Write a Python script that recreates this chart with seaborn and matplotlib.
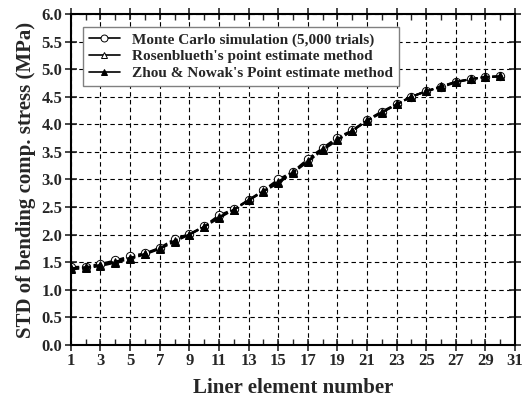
import numpy as np
import pandas as pd
import matplotlib
matplotlib.use("Agg")
import matplotlib.pyplot as plt
import seaborn as sns
from matplotlib.ticker import MultipleLocator, FixedLocator

elements = list(range(1, 31))
monte_carlo = [1.41, 1.42, 1.47, 1.53, 1.61, 1.66, 1.76, 1.92, 2.01, 2.15, 2.35, 2.46, 2.63, 2.80, 3.00, 3.14,
               3.37, 3.57, 3.76, 3.89, 4.08, 4.23, 4.37, 4.50, 4.60, 4.67, 4.76, 4.82, 4.85, 4.87]
rosenblueth = [1.39, 1.41, 1.45, 1.51, 1.58, 1.65, 1.75, 1.89, 2.00, 2.14, 2.32, 2.45, 2.62, 2.79, 2.96, 3.13,
               3.34, 3.55, 3.73, 3.88, 4.07, 4.22, 4.36, 4.50, 4.60, 4.68, 4.77, 4.82, 4.86, 4.87]
zhou_nowak = [1.37, 1.39, 1.43, 1.49, 1.56, 1.64, 1.74, 1.87, 2.00, 2.14, 2.30, 2.45, 2.62, 2.78, 2.93, 3.12,
              3.32, 3.53, 3.71, 3.88, 4.06, 4.21, 4.36, 4.50, 4.60, 4.69, 4.77, 4.82, 4.86, 4.87]
labels = ["Monte Carlo simulation (5,000 trials)",
          "Rosenblueth's point estimate method",
          "Zhou & Nowak's Point estimate method"]
x_ticks = list(range(1, 32, 2))

sns.set_style("ticks")
plt.rcParams['font.family'] = ['Liberation Serif', 'DejaVu Serif']
plt.rcParams['font.weight'] = 'bold'

fig = plt.figure(figsize=(5.25, 4.01), dpi=100)
ax = fig.add_axes([0.135, 0.14, 0.846, 0.825])

styles = [
    dict(marker='o', mfc='white', mec='black'),
    dict(marker='^', mfc='white', mec='black'),
    dict(marker='^', mfc='black', mec='black'),
]
for series, lab, st in zip([monte_carlo, rosenblueth, zhou_nowak], labels, styles):
    df = pd.DataFrame({"x": elements, "y": series})
    sns.lineplot(data=df, x="x", y="y", ax=ax, color='black', lw=1.5, dashes=False,
                 linestyle=(0, (4, 1.5)), marker=st['marker'], markersize=6,
                 markerfacecolor=st['mfc'], markeredgecolor=st['mec'], markeredgewidth=0.7,
                 label=lab)

ax.set_xlim(1, 31)
ax.set_ylim(0, 6.0)
ax.xaxis.set_major_locator(FixedLocator(x_ticks))
ax.xaxis.set_minor_locator(MultipleLocator(1))
ax.yaxis.set_major_locator(MultipleLocator(0.5))
ax.yaxis.set_major_formatter(matplotlib.ticker.FormatStrFormatter('%.1f'))
ax.grid(True, which='major', linestyle=(0, (4, 3)), color='black', lw=0.8)
ax.tick_params(which='major', direction='inout', length=8, width=1.2, top=True, right=True,
               labelsize=12, pad=2)
ax.tick_params(which='minor', direction='in', length=4, width=1.0, top=True, right=False)
for lab in ax.get_xticklabels() + ax.get_yticklabels():
    lab.set_fontweight('bold')
for s in ax.spines.values():
    s.set_linewidth(1.5)
    s.set_visible(True)
    s.set_color('black')

ax.set_xlabel("Liner element number", fontsize=15, fontweight='bold', labelpad=6)
ax.set_ylabel("STD of bending comp. stress (MPa)", fontsize=15, fontweight='bold', labelpad=4)

handles, _ = ax.get_legend_handles_labels()
leg = ax.legend(handles=handles, labels=labels, loc='upper left', bbox_to_anchor=(0.01, 0.985),
                prop={'family': 'Liberation Serif', 'weight': 'bold', 'size': 11},
                frameon=True, fancybox=False, edgecolor='gray', framealpha=1,
                handlelength=2.0, borderpad=0.4, labelspacing=0.2)
leg.get_frame().set_linewidth(1.0)
for h in leg.get_lines():
    h.set_linestyle('-')
    h.set_linewidth(1.2)
    h.set_markersize(5)

fig.savefig("out.png", dpi=100)
